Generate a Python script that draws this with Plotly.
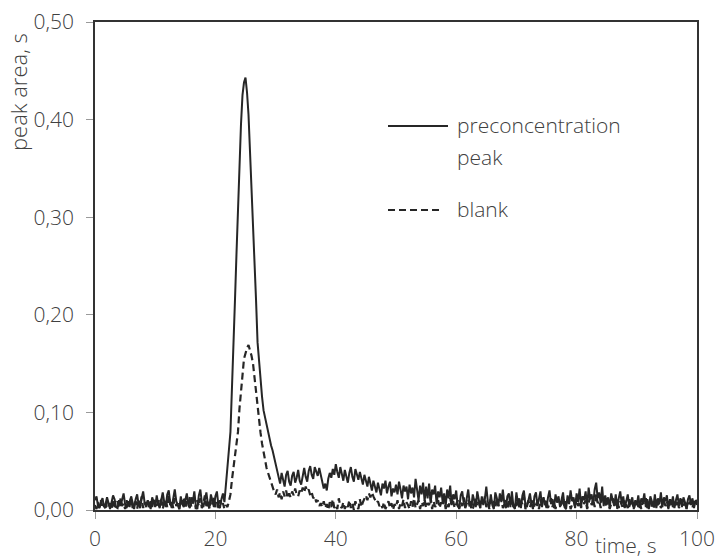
import plotly.graph_objects as go

# time axis, 0.25 s sampling
time_s = [i * 0.25 for i in range(401)]

preconcentration = [
    0.010, 0.014, 0.004, 0.002, 0.009, 0.012, 0.003, 0.006, 0.013, 0.005,
    0.001, 0.008, 0.015, 0.011, 0.003, 0.002, 0.010, 0.004, 0.012, 0.017,
    0.006, 0.002, 0.009, 0.003, 0.014, 0.008, 0.001, 0.011, 0.016, 0.005,
    0.002, 0.012, 0.019, 0.007, 0.003, 0.010, 0.004, 0.001, 0.013, 0.009,
    0.003, 0.015, 0.006, 0.002, 0.011, 0.018, 0.008, 0.003, 0.016, 0.020,
    0.007, 0.002, 0.012, 0.021, 0.009, 0.004, 0.001, 0.014, 0.006, 0.003,
    0.011, 0.017, 0.005, 0.002, 0.013, 0.008, 0.019, 0.004, 0.001, 0.015,
    0.021, 0.007, 0.003, 0.012, 0.018, 0.006, 0.002, 0.016, 0.009, 0.003,
    0.014, 0.019, 0.005, 0.002, 0.011, 0.017, 0.008, 0.024, 0.040, 0.062,
    0.080, 0.120, 0.165, 0.215, 0.262, 0.310, 0.338, 0.395, 0.425, 0.438,
    0.443, 0.428, 0.405, 0.370, 0.330, 0.300, 0.266, 0.215, 0.172, 0.150,
    0.132, 0.116, 0.102, 0.094, 0.086, 0.079, 0.072, 0.066, 0.061, 0.054,
    0.046, 0.041, 0.034, 0.027, 0.038, 0.031, 0.024, 0.036, 0.040, 0.029,
    0.025, 0.035, 0.039, 0.028, 0.033, 0.041, 0.030, 0.026, 0.037, 0.043,
    0.034, 0.029, 0.040, 0.045, 0.036, 0.032, 0.044, 0.039, 0.035, 0.043,
    0.037, 0.029, 0.022, 0.027, 0.020, 0.032, 0.038, 0.033, 0.042, 0.036,
    0.047, 0.039, 0.033, 0.044, 0.036, 0.030, 0.041, 0.035, 0.028, 0.038,
    0.044, 0.034, 0.029, 0.042, 0.037, 0.031, 0.039, 0.033, 0.026, 0.036,
    0.031, 0.024, 0.034, 0.027, 0.020, 0.030, 0.023, 0.018, 0.028, 0.021,
    0.015, 0.027, 0.022, 0.030, 0.017, 0.024, 0.029, 0.014, 0.022, 0.018,
    0.026, 0.016, 0.029, 0.021, 0.012, 0.025, 0.019, 0.024, 0.011, 0.026,
    0.017, 0.023, 0.013, 0.032, 0.021, 0.010, 0.025, 0.016, 0.028, 0.009,
    0.024, 0.012, 0.027, 0.007, 0.021, 0.016, 0.025, 0.006, 0.019, 0.013,
    0.023, 0.008, 0.017, 0.004, 0.021, 0.012, 0.025, 0.005, 0.016, 0.011,
    0.020, 0.004, 0.002, 0.015, 0.019, 0.007, 0.003, 0.013, 0.021, 0.006,
    0.002, 0.016, 0.010, 0.003, 0.019, 0.008, 0.002, 0.014, 0.005, 0.011,
    0.024, 0.009, 0.003, 0.016, 0.005, 0.001, 0.018, 0.012, 0.004, 0.017,
    0.008, 0.021, 0.006, 0.002, 0.014, 0.017, 0.003, 0.019, 0.004, 0.001,
    0.018, 0.007, 0.012, 0.002, 0.015, 0.020, 0.005, 0.003, 0.011, 0.017,
    0.006, 0.001, 0.014, 0.018, 0.004, 0.010, 0.019, 0.003, 0.012, 0.008,
    0.002, 0.013, 0.020, 0.006, 0.011, 0.002, 0.016, 0.008, 0.014, 0.003,
    0.012, 0.018, 0.003, 0.001, 0.015, 0.006, 0.020, 0.009, 0.013, 0.002,
    0.017, 0.008, 0.022, 0.004, 0.014, 0.010, 0.019, 0.003, 0.023, 0.011,
    0.016, 0.005, 0.021, 0.028, 0.012, 0.018, 0.007, 0.024, 0.004, 0.015,
    0.008, 0.013, 0.002, 0.017, 0.010, 0.004, 0.016, 0.001, 0.012, 0.019,
    0.006, 0.014, 0.002, 0.011, 0.016, 0.003, 0.009, 0.013, 0.001, 0.010,
    0.005, 0.015, 0.002, 0.012, 0.008, 0.017, 0.003, 0.011, 0.001, 0.014,
    0.009, 0.003, 0.016, 0.002, 0.012, 0.006, 0.018, 0.003, 0.013, 0.009,
    0.015, 0.001, 0.011, 0.005, 0.014, 0.002, 0.010, 0.016, 0.004, 0.012,
    0.003, 0.013, 0.008, 0.001, 0.011, 0.015, 0.005, 0.012, 0.002, 0.009,
    0.007,
]

blank = [
    0.005, 0.001, 0.008, 0.003, 0.010, 0.002, 0.006, 0.000, 0.009, 0.004,
    0.007, 0.001, 0.011, 0.003, 0.006, 0.009, 0.002, 0.012, 0.004, 0.007,
    0.001, 0.010, 0.003, 0.008, 0.013, 0.002, 0.006, 0.009, 0.001, 0.011,
    0.004, 0.014, 0.002, 0.008, 0.005, 0.011, 0.001, 0.009, 0.003, 0.012,
    0.006, 0.002, 0.010, 0.004, 0.013, 0.001, 0.008, 0.011, 0.003, 0.015,
    0.005, 0.009, 0.002, 0.012, 0.004, 0.007, 0.001, 0.010, 0.006, 0.013,
    0.002, 0.009, 0.005, 0.014, 0.003, 0.008, 0.011, 0.001, 0.010, 0.004,
    0.012, 0.002, 0.007, 0.015, 0.004, 0.009, 0.001, 0.011, 0.006, 0.013,
    0.003, 0.008, 0.002, 0.010, 0.004, 0.007, 0.001, 0.005, 0.003, 0.009,
    0.016, 0.031, 0.042, 0.053, 0.066, 0.080, 0.104, 0.118, 0.138, 0.155,
    0.162, 0.166, 0.169, 0.164, 0.158, 0.150, 0.135, 0.120, 0.106, 0.090,
    0.079, 0.068, 0.058, 0.050, 0.043, 0.038, 0.033, 0.028, 0.024, 0.019,
    0.016, 0.021, 0.013, 0.018, 0.011, 0.019, 0.014, 0.020, 0.012, 0.017,
    0.013, 0.019, 0.015, 0.022, 0.016, 0.014, 0.020, 0.017, 0.023, 0.018,
    0.024, 0.019, 0.021, 0.015, 0.018, 0.012, 0.014, 0.008, 0.010, 0.004,
    0.007, 0.003, 0.009, 0.002, 0.006, 0.000, 0.008, 0.003, 0.011, 0.002,
    0.005, 0.001, 0.012, 0.004, 0.002, 0.008, 0.001, 0.006, 0.003, 0.010,
    0.002, 0.007, 0.000, 0.009, 0.004, 0.001, 0.011, 0.003, 0.008, 0.012,
    0.015, 0.010, 0.017, 0.013, 0.018, 0.014, 0.011, 0.007, 0.009, 0.004,
    0.006, 0.002, 0.008, 0.001, 0.005, 0.009, 0.002, 0.007, 0.000, 0.006,
    0.003, 0.010, 0.001, 0.007, 0.004, 0.011, 0.002, 0.008, 0.005, 0.001,
    0.009, 0.003, 0.012, 0.002, 0.006, 0.010, 0.001, 0.008, 0.004, 0.011,
    0.002, 0.007, 0.005, 0.013, 0.001, 0.009, 0.003, 0.006, 0.010, 0.002,
    0.008, 0.004, 0.011, 0.001, 0.007, 0.003, 0.012, 0.005, 0.009, 0.002,
    0.006, 0.010, 0.001, 0.008, 0.004, 0.013, 0.002, 0.007, 0.011, 0.003,
    0.009, 0.001, 0.006, 0.012, 0.004, 0.008, 0.002, 0.010, 0.005, 0.014,
    0.003, 0.007, 0.001, 0.011, 0.006, 0.009, 0.002, 0.012, 0.004, 0.008,
    0.013, 0.002, 0.007, 0.010, 0.001, 0.009, 0.005, 0.012, 0.003, 0.008,
    0.004, 0.011, 0.002, 0.009, 0.006, 0.014, 0.001, 0.007, 0.010, 0.003,
    0.008, 0.012, 0.002, 0.006, 0.009, 0.001, 0.011, 0.004, 0.013, 0.005,
    0.010, 0.002, 0.007, 0.012, 0.003, 0.009, 0.001, 0.008, 0.011, 0.004,
    0.006, 0.013, 0.002, 0.009, 0.005, 0.011, 0.001, 0.007, 0.010, 0.003,
    0.012, 0.004, 0.009, 0.002, 0.014, 0.006, 0.010, 0.001, 0.008, 0.013,
    0.005, 0.011, 0.003, 0.016, 0.007, 0.010, 0.002, 0.012, 0.006, 0.009,
    0.003, 0.010, 0.001, 0.008, 0.012, 0.004, 0.007, 0.011, 0.002, 0.009,
    0.005, 0.001, 0.010, 0.006, 0.002, 0.011, 0.004, 0.008, 0.001, 0.007,
    0.011, 0.003, 0.008, 0.001, 0.009, 0.005, 0.012, 0.002, 0.007, 0.010,
    0.003, 0.008, 0.001, 0.011, 0.005, 0.009, 0.002, 0.006, 0.010, 0.004,
    0.009, 0.001, 0.007, 0.012, 0.003, 0.008, 0.005, 0.010, 0.002, 0.006,
    0.011, 0.004, 0.008, 0.001, 0.009, 0.006, 0.010, 0.003, 0.007, 0.012,
    0.005,
]

x_ticks = [0, 20, 40, 60, 80, 100]
y_ticks = [0.0, 0.1, 0.2, 0.3, 0.4, 0.5]

FONT = "Open Sans"
TXT = "#404040"
LINE = "#262626"
FS = 21

fig = go.Figure()
fig.add_trace(go.Scatter(x=time_s, y=preconcentration, mode="lines",
                         line=dict(color=LINE, width=2), name="preconcentration peak",
                         showlegend=False))
fig.add_trace(go.Scatter(x=time_s, y=blank, mode="lines",
                         line=dict(color=LINE, width=2.2, dash="7px,4px"), name="blank",
                         showlegend=False))

W, H = 716, 559
L, R, T, B = 95, 697, 22, 510
pw, ph = R - L, B - T


def px(xp):
    return (xp - L) / pw


def py(yp):
    return (B - yp) / ph


tick_font = dict(family=FONT, size=FS, color=TXT, weight=300)
axis_common = dict(showgrid=False, zeroline=False, showline=True, linecolor="#333333",
                   linewidth=1.6, mirror=True, ticks="outside", ticklen=7,
                   tickcolor="#9a9a9a", tickwidth=1, automargin=False,
                   tickfont=tick_font)

fig.update_layout(
    width=W, height=H,
    margin=dict(l=L, r=W - R, t=T, b=H - B),
    paper_bgcolor="white", plot_bgcolor="white",
    separators=",.",
    font=dict(family=FONT, color=TXT),
    xaxis=dict(range=[0, 100], tickvals=x_ticks, tickformat="d",
               ticklabelstandoff=2, **axis_common),
    yaxis=dict(range=[0, 0.5], tickvals=y_ticks, tickformat=".2f",
               ticklabelstandoff=8, **axis_common),
)

# axis titles
fig.add_annotation(text="time, s", x=px(626), y=py(545), xref="paper", yref="paper",
                   showarrow=False, xanchor="center", yanchor="middle",
                   font=dict(family=FONT, size=FS, color=TXT, weight=300))
fig.add_annotation(text="peak area, s", x=px(18), y=py(92), xref="paper", yref="paper",
                   showarrow=False, textangle=-90, xanchor="center", yanchor="middle",
                   font=dict(family=FONT, size=22, color=TXT, weight=300))

# legend drawn manually
fig.add_shape(type="line", xref="paper", yref="paper", x0=px(388), x1=px(448),
              y0=py(126), y1=py(126), line=dict(color=LINE, width=1.8))
fig.add_shape(type="line", xref="paper", yref="paper", x0=px(388), x1=px(443),
              y0=py(210), y1=py(210), line=dict(color=LINE, width=2.2, dash="7px,4px"))
fig.add_annotation(text="preconcentration", x=px(455), y=py(125), xref="paper", yref="paper",
                   showarrow=False, xanchor="left", yanchor="middle",
                   font=dict(family=FONT, size=FS, color=TXT, weight=300))
fig.add_annotation(text="peak", x=px(455), y=py(157), xref="paper", yref="paper",
                   showarrow=False, xanchor="left", yanchor="middle",
                   font=dict(family=FONT, size=FS, color=TXT, weight=300))
fig.add_annotation(text="blank", x=px(455), y=py(209), xref="paper", yref="paper",
                   showarrow=False, xanchor="left", yanchor="middle",
                   font=dict(family=FONT, size=FS, color=TXT, weight=300))

fig.write_html("out.html")
